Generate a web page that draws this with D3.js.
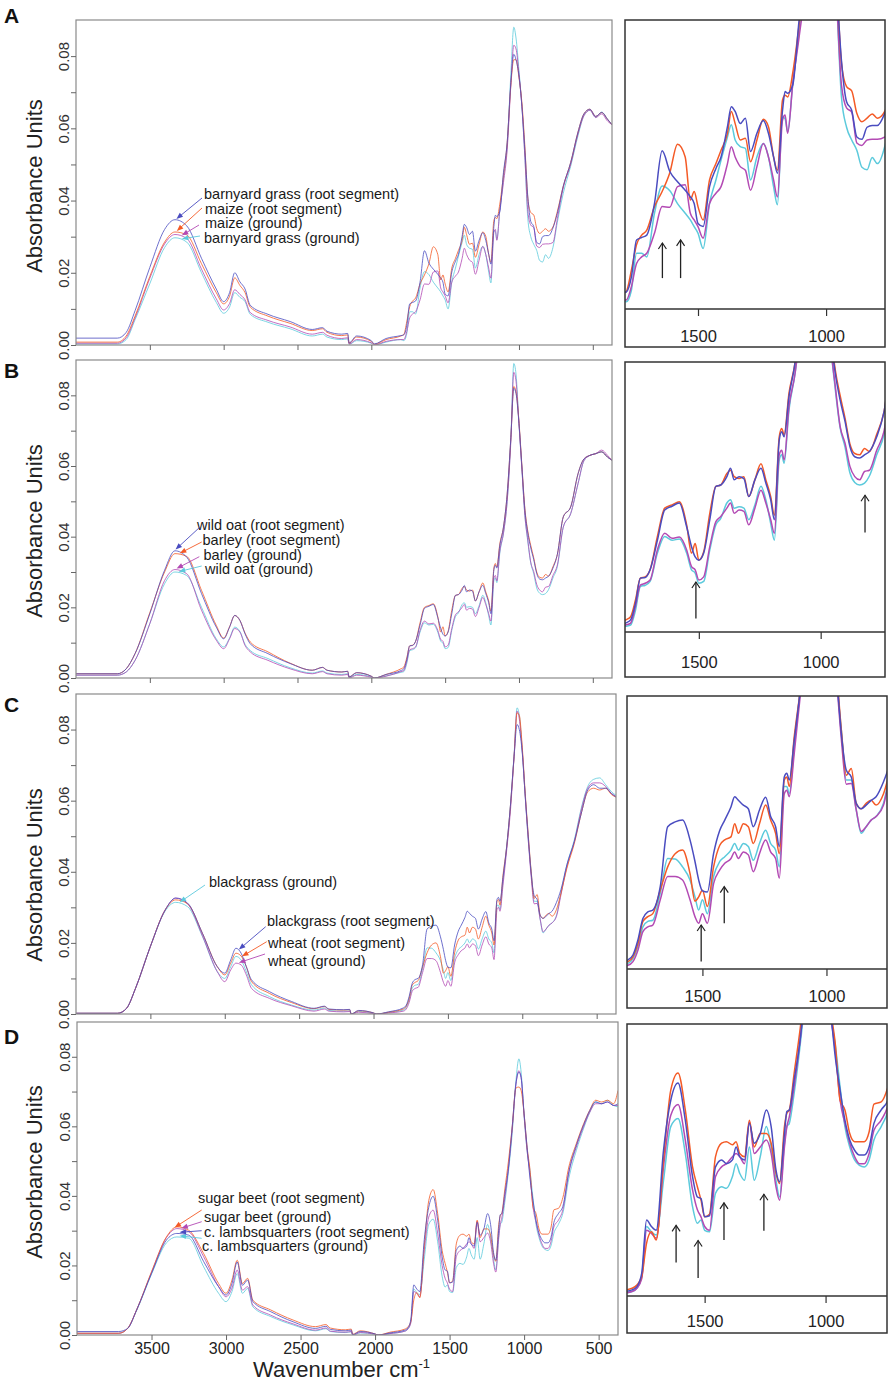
<!DOCTYPE html>
<html>
<head>
<meta charset="utf-8">
<script src="https://cdn.jsdelivr.net/npm/d3@7"></script>
<style>
  body { margin: 0; background: #fff; }
  svg { display: block; }
</style>
</head>
<body>
<script>
'use strict';

// wavenumber grid (cm-1) shared by every spectrum
const wavenumbers = [4000, 3720, 3660, 3600, 3500, 3400, 3330, 3250, 3150, 3050,
  3000, 2960, 2925, 2890, 2855, 2820, 2700, 2550, 2400, 2330,
  2300, 2200, 2160, 2150, 2100, 2000, 1980, 1900, 1800, 1780,
  1760, 1740, 1720, 1700, 1670, 1640, 1610, 1580, 1550, 1530,
  1515, 1500, 1480, 1455, 1430, 1410, 1385, 1370, 1355, 1335,
  1315, 1295, 1270, 1245, 1225, 1205, 1190, 1170, 1160, 1150,
  1130, 1105, 1080, 1055, 1035, 1020, 1000, 980, 960, 940,
  920, 900, 880, 860, 840, 820, 800, 770, 740, 700,
  650, 600, 560, 520, 480, 440, 400, 370];

// absorbance values in milli-absorbance units (x 1000)
// panel A
const aBarnyardRoot = [1.9, 1.9, 3.5, 9.5, 21.5, 32, 34.7, 33, 24, 15.5,
  12, 14.5, 20, 17.5, 15.5, 11, 8.5, 6.5, 4.3, 4.8,
  3.8, 3, 3.2, 0.6, 2.5, 1.2, 0.3, 1.8, 2.6, 2.8,
  5.3, 11.4, 11.8, 12.2, 17.4, 26.1, 22.7, 21, 19.6, 18.5,
  17.4, 14.1, 13.6, 20.2, 23.2, 25.1, 30.1, 33.4, 32.6, 30.6,
  31.5, 26, 29, 31.1, 29, 25.1, 22.4, 32.8, 35.9, 35.6,
  37, 47.8, 56, 72.7, 80.5, 79, 74.5, 66, 54, 41,
  34.2, 32.8, 28.4, 28, 30, 30.3, 30.3, 32.4, 36.5, 44,
  50.5, 59, 64, 65.3, 63.3, 64.4, 62.5, 61];
const aMaizeRoot = [0.8, 0.8, 2.5, 8, 19, 28.5, 31.3, 30.5, 22.5, 14.5,
  11.4, 13.5, 18.6, 16.5, 14.5, 10.5, 8, 6, 4, 4.5,
  3.5, 2.6, 2.8, 0.5, 2.2, 1, 0.2, 1.5, 2.5, 2.9,
  6.4, 10.6, 12.2, 13, 16.9, 19.4, 22.5, 27.2, 25.1, 18,
  19.4, 16.9, 14.7, 21.3, 24, 26.2, 29, 32.6, 30.6, 27.9,
  28.2, 24.3, 27.9, 31.3, 30.1, 25.1, 22.9, 34.5, 35.3, 35,
  39, 47, 56, 72, 79, 79, 74, 67, 55, 40.6,
  36.7, 36, 32.3, 30.9, 31.5, 32.2, 31.5, 32.7, 37, 44,
  50.5, 59, 64, 65.3, 63.3, 64.4, 62.5, 61];
const aMaizeGround = [0.5, 0.5, 2, 7.5, 18.5, 28, 30.6, 29.5, 21, 12.8,
  9.7, 11.5, 15.3, 14, 12.5, 9, 6.8, 5, 3, 3.5,
  2.7, 1.8, 2, 0.3, 1.5, 0.6, 0, 1, 1.5, 1.5,
  3.7, 7.5, 8.6, 9.2, 12.5, 16.9, 16.8, 20.2, 20.5, 15.8,
  14.7, 13.6, 11.7, 17.4, 19.1, 20.2, 24, 26.8, 25.1, 23.5,
  22.9, 19.6, 23.5, 27.3, 25.1, 21.3, 18.5, 31.2, 32, 29,
  37.2, 45, 54, 72, 83, 82, 75, 66, 52, 37,
  33.2, 32.5, 27.4, 27, 27.9, 28, 28, 28.4, 35, 43.5,
  50, 58.5, 63.5, 65, 63, 64, 62, 61];
const aBarnyardGround = [0.3, 0.3, 1.5, 7, 17, 27, 29.7, 28.5, 20, 11.8,
  8.8, 10.5, 14.5, 13.2, 12, 8.5, 6.3, 4.5, 2.5, 3,
  2.2, 1.5, 1.7, 0.2, 1.2, 0.5, 0, 0.8, 1.5, 1.2,
  3.1, 9.2, 9.2, 8.6, 15.8, 20.3, 19.5, 17.4, 15.8, 14.7,
  13.6, 12.5, 10, 17.4, 21.3, 24.6, 28.4, 30.4, 27.9, 26.8,
  26.5, 21.3, 25.1, 27.3, 25.1, 20.2, 17.2, 31.7, 31.4, 29.2,
  37.2, 46, 55, 75, 88, 85, 76, 66, 52, 35,
  30, 27.9, 26.2, 23.4, 23, 25, 24, 27, 34, 42,
  49.5, 58, 63.5, 65, 63, 64.5, 62.5, 61];

// panel B
const bWildOatRoot = [1.2, 1.2, 2.6, 6.9, 18.2, 30.5, 36, 34.2, 23.9, 14.4,
  11.1, 14.4, 17.7, 16.3, 12.5, 9.7, 6.9, 4.1, 2.2, 3,
  2.2, 1.7, 1.9, 0.3, 1.5, 0.5, 0, 1, 2.1, 2.6,
  5.2, 9.1, 9.2, 10.4, 15, 19.7, 20.3, 20.8, 17.1, 14,
  12.4, 11.9, 13, 18.2, 23.4, 23.6, 24.9, 26.2, 24.4, 24.9,
  24.6, 21.8, 24.4, 26.2, 23.9, 21.3, 18.2, 30.6, 31.9, 31.1,
  37.4, 42.7, 52, 68, 82, 80.5, 72, 59.7, 47.5, 41,
  36.8, 33.5, 29.6, 28, 27.8, 28.3, 28.8, 31.1, 35, 45.6,
  48.4, 57.8, 62, 63, 63.5, 64, 62.5, 61.6];
const bBarleyRoot = [1.2, 1.2, 2.6, 6.9, 18.5, 30, 35.2, 34.4, 24.8, 14.9,
  11.3, 14.5, 17.7, 16.3, 12.7, 10.2, 7.4, 4.2, 2.2, 3,
  2.2, 1.7, 1.9, 0.3, 1.5, 0.5, 0, 1, 2.6, 3.1,
  5.7, 9.1, 9.3, 10.4, 15.6, 20, 20.5, 21, 17.4, 13,
  14.5, 11.9, 13.2, 19.2, 23.4, 23.6, 25.4, 25.9, 24.9, 24.6,
  24.9, 21.8, 24.4, 26.9, 24.4, 21.8, 18.9, 31.1, 32.4, 31.4,
  37.9, 42.7, 52, 68, 82.5, 81, 72.5, 60, 48, 41.5,
  37.5, 34, 30, 28.5, 28.3, 29.3, 28.8, 31.5, 35, 45.6,
  48.4, 57.8, 62, 63, 63.5, 64, 62.5, 61.6];
const bBarleyGround = [0.8, 0.8, 1.7, 5, 15.4, 27.6, 30.7, 29.5, 19.2, 10.7,
  8.3, 11.1, 14, 13, 9.2, 7.4, 5, 2.6, 1.2, 1.8,
  1.2, 0.8, 1, 0, 0.8, 0.2, 0, 0.5, 1.8, 2.1,
  4.7, 8, 8.3, 8.8, 13.5, 16.1, 15.3, 15.5, 13.5, 10.9,
  10.4, 8.8, 9.3, 14, 17.9, 18.7, 20, 20.8, 19.2, 19.7,
  19.5, 17.4, 20, 22.8, 20.8, 18.2, 16.1, 28.3, 29, 27.5,
  35.8, 41, 50, 67, 86.5, 84, 72, 59, 46, 39,
  32.7, 30.1, 26.5, 24.9, 24.4, 25.7, 25.9, 29, 32, 42.7,
  46.5, 55, 61.5, 63, 63.5, 64.5, 63, 61.6];
const bWildOatGround = [0.8, 0.8, 1.7, 5, 15.4, 26.7, 30, 29, 20, 11.1,
  8.8, 11.3, 14.4, 13.2, 9.5, 7.8, 5.5, 2.9, 1.4, 2,
  1.4, 1, 1.2, 0.2, 1, 0.3, 0, 0.6, 1.6, 1.8,
  4.1, 7.8, 8, 8.6, 13, 15.6, 15, 15.2, 13, 10.4,
  9.9, 8.3, 8.6, 13.5, 17.4, 18.4, 20.8, 21.3, 20, 20.2,
  20, 18.2, 20.5, 23.4, 21.3, 17.6, 15, 27.5, 28.3, 27,
  35.3, 41, 50, 68, 89, 86, 72, 59, 46, 38.5,
  32.5, 29.5, 25.5, 24, 23.6, 23.9, 25, 28.3, 31.5, 42.7,
  46.5, 55, 61.5, 63, 63.5, 64, 62.5, 61.6];

// panel C
const cBlackgrassRoot = [0.2, 0.2, 1.6, 7.2, 19, 29.3, 32.6, 31.2, 22.7, 13.3,
  11.5, 15.2, 18.5, 17.1, 13.3, 9.6, 6.3, 3.5, 1.6, 2.2,
  1.4, 1.2, 1.3, 0, 1, 0.3, 0, 0.6, 1.7, 2.5,
  5, 8.6, 9.7, 10, 13.9, 23.9, 24.7, 25, 21.7, 18.1,
  15, 13.2, 13, 19.4, 23.3, 25, 27.2, 28.9, 28.3, 27.5,
  26.9, 23.9, 26.7, 28.8, 25.6, 23.9, 20.6, 32.2, 32.8, 31.7,
  38.3, 47, 58.4, 72.5, 81.4, 80, 73.4, 61.2, 50, 39.4,
  33.3, 32.2, 27.8, 26.9, 27.5, 28.3, 28.9, 31.4, 35, 42,
  48.5, 57, 63, 64.5, 63.5, 63.5, 62, 61];
const cWheatRoot = [0.2, 0.2, 1.6, 7.2, 19, 29.3, 32.1, 31, 22.7, 13.3,
  11, 14.3, 17.1, 16.3, 13.3, 9.1, 5.8, 3.2, 1.5, 2.1,
  1.3, 1.1, 1.2, 0, 0.9, 0.3, 0, 0.5, 1.4, 2.2,
  4.4, 8.1, 8.9, 9.4, 13.3, 17.2, 19.4, 20, 16.1, 11.5,
  12.2, 13.3, 10.6, 17.2, 20.8, 21.7, 22.2, 24.4, 22.8, 24.4,
  23.9, 21.1, 24.4, 27.5, 25, 22.8, 19.4, 31.7, 32.2, 30.6,
  38.9, 47, 58.4, 72.5, 84.7, 84, 75, 62, 50.5, 40,
  32.5, 33.6, 27.8, 26.9, 27.8, 28.3, 27.5, 29.4, 34, 41,
  48, 57, 62.5, 63.5, 63, 63.5, 61.7, 61];
const cBlackgrassGround = [0.2, 0.2, 1.6, 7.2, 19, 29, 31.4, 30.2, 21.8, 11.9,
  10, 13.3, 16.2, 15.2, 11.9, 8.2, 4.9, 2.5, 1.1, 1.7,
  1, 0.8, 0.9, 0, 0.7, 0.2, 0, 0.4, 1.1, 1.9,
  3.9, 7.2, 8.1, 8.3, 12.8, 18.6, 18.5, 17.2, 15, 12.2,
  10, 11.7, 9.4, 15.6, 18.1, 18.9, 20, 21.1, 20, 21.1,
  20.6, 18.3, 21.1, 23.3, 21.1, 20, 17.2, 30.6, 30.6, 29.4,
  37.2, 47, 58.4, 73, 86.1, 84, 74, 61.2, 49, 40,
  31.7, 31.7, 26.7, 22.8, 23.9, 25, 25.6, 27.8, 34, 42,
  49, 58.5, 64, 66, 66.4, 64.5, 62.5, 61.5];
const cWheatGround = [0.2, 0.2, 1.6, 7.2, 19, 29.3, 32.6, 31, 22, 11.9,
  9.1, 12.4, 14.3, 13.8, 11, 7.2, 4.4, 2.3, 0.8, 1.4,
  0.8, 0.6, 0.7, 0, 0.5, 0.1, 0, 0.3, 0.8, 1.4,
  3.3, 6.4, 7.2, 7.5, 11.7, 15.6, 15.6, 15, 11.7, 8.9,
  7.8, 9.4, 7.8, 14.4, 16.7, 17.8, 18.6, 19.7, 18.6, 19.7,
  19.2, 16.4, 19.4, 21.7, 19.7, 18.6, 15.3, 29.4, 30, 28.9,
  36.1, 46, 57, 72.5, 85.2, 83, 74, 61, 49, 38.5,
  31, 31.1, 26.7, 23.1, 23.9, 25, 25.6, 27.5, 33.5, 41.5,
  48.5, 58, 63.5, 65, 65, 64, 62, 61.2];

// panel D
const dSugarBeetRoot = [0.5, 0.5, 1.9, 7.2, 18.2, 28.2, 31.1, 30.1, 23.4, 14.8,
  12, 15.8, 21.5, 14.8, 16.3, 10, 7.2, 4.3, 2.4, 3,
  2, 1.5, 1.7, 0.2, 1.2, 0.3, 0, 0.8, 1.7, 2.3,
  3.9, 10.1, 12.2, 10.7, 25.6, 38.6, 41.8, 34.9, 24.3, 20.6,
  18.1, 15, 15.5, 26.2, 28.7, 29, 28.4, 29, 26.8, 26.2,
  33, 28, 30.5, 30.5, 28.7, 23.1, 21.2, 31.8, 34.3, 34.9,
  41.7, 50, 59.8, 71, 71.3, 70.3, 63.6, 54, 47.3, 36.7,
  34.9, 30.5, 29, 29, 29, 30.8, 36, 36.4, 39.5, 48.3,
  55, 60.8, 64.6, 67.5, 67, 67.5, 66.5, 70.3];
const dSugarBeetGround = [0.5, 0.5, 1.9, 7.2, 18, 28, 30.6, 29.7, 22.5, 13.9,
  11, 13.5, 18.7, 12.9, 13.9, 8.6, 5.7, 3.2, 1.4, 2,
  1.1, 0.8, 1, 0, 0.7, 0.2, 0, 0.4, 1.1, 1.7,
  3.5, 12.5, 11.9, 11, 24.3, 33.9, 35.9, 29.3, 20, 16.3,
  15, 13.2, 12.5, 22.5, 24.3, 24.9, 26.2, 26.8, 26.2, 24.9,
  32.7, 26.8, 28, 29.3, 26.8, 20.6, 18.1, 28, 31.8, 33.6,
  39.2, 48, 59, 72, 76, 74, 63, 53, 46, 36.7,
  32.4, 28.7, 26.2, 24.9, 24.9, 26.8, 31.1, 33, 36, 46.5,
  54, 60, 64, 66.5, 66.5, 67, 66, 66];
const dLambsquartersRoot = [1, 1, 1.9, 7.2, 17.7, 27.3, 29.2, 28.7, 21.1, 13.9,
  11.5, 14.8, 21, 14.3, 15.8, 9.6, 6.7, 3.8, 1.9, 2.5,
  1.6, 1.2, 1.4, 0.1, 1, 0.3, 0, 0.6, 1.4, 2,
  4.5, 14.4, 13.2, 12.5, 27.4, 36.7, 39.9, 33, 22.5, 18.7,
  18.4, 15, 15.2, 24.3, 25.6, 24.9, 25.6, 28, 26.2, 25.6,
  32.4, 28.7, 30.5, 34.9, 31.8, 23.7, 21.5, 30.5, 34.6, 34.9,
  40.5, 48, 59.8, 72.2, 75.6, 74, 63.6, 54, 44.8, 38.6,
  33, 29.3, 27.4, 26.5, 26.5, 28, 32.4, 34.9, 37, 47,
  54.5, 60.5, 64.5, 67, 66.5, 67, 66, 66.5];
const dLambsquartersGround = [0.5, 0.5, 1.9, 7, 17.5, 26.5, 28.2, 27.8, 19.6, 12,
  9.6, 12.5, 17.7, 12, 13.4, 8.1, 5.3, 2.9, 1.2, 1.8,
  1, 0.7, 0.9, 0, 0.6, 0.2, 0, 0.4, 1.1, 1.7,
  3.9, 13.2, 12.2, 11.6, 21.8, 31.8, 33.3, 26.8, 16.9, 13.8,
  14.4, 12.5, 12.2, 19.4, 20.6, 20.3, 22.5, 24.9, 23.1, 21.8,
  28, 21.8, 26.2, 31.8, 28, 21.8, 18.7, 28.7, 31.8, 32.4,
  38, 47, 58, 73, 79.4, 75.6, 63, 53, 47, 39.2,
  31.8, 28, 25.6, 24.6, 24.3, 25.6, 29.3, 31.8, 35, 45,
  53, 59.5, 64, 67, 66.5, 67.5, 66, 65.6];

const mainTicks = [3500, 3000, 2500, 2000, 1500, 1000, 500];
const insetTicks = [1500, 1000];

// marked bands in the zoomed panels: wavenumber, arrow from / to (mAU)
const aBands = [{ wn: 1639, from: 5.1, to: 10.9 }, { wn: 1568, from: 5.1, to: 11.4 }];
const bBands = [{ wn: 1512, from: 2.8, to: 8.5 }, { wn: 818, from: 16.2, to: 22 }];
const cBands = [{ wn: 1505, from: 1.4, to: 7.5 }, { wn: 1412, from: 7.8, to: 13.9 }];
const dBands = [{ wn: 1618, from: 6.5, to: 13.4 }, { wn: 1527, from: 3.6, to: 10.6 },
  { wn: 1420, from: 10.7, to: 17.6 }, { wn: 1255, from: 12.4, to: 19.2 }];

const colors = { blue: '#4a4cc0', red: '#f45a26', magenta: '#b34ab4', cyan: '#5ccadc' };
const FONT = '"Liberation Sans", Arial, sans-serif';

// series drawn back to front; tip = wavenumber the label arrow points at
const panels = [
  { letter: 'A', bands: aBands, series: [
    { name: 'barnyard grass (ground)', color: colors.cyan, values: aBarnyardGround, tip: 3283 },
    { name: 'maize (ground)', color: colors.magenta, values: aMaizeGround, tip: 3283 },
    { name: 'maize (root segment)', color: colors.red, values: aMaizeRoot, tip: 3317 },
    { name: 'barnyard grass (root segment)', color: colors.blue, values: aBarnyardRoot, tip: 3320 }] },
  { letter: 'B', bands: bBands, series: [
    { name: 'wild oat (ground)', color: colors.cyan, values: bWildOatGround, tip: 3304 },
    { name: 'barley (ground)', color: colors.magenta, values: bBarleyGround, tip: 3319 },
    { name: 'barley (root segment)', color: colors.red, values: bBarleyRoot, tip: 3297 },
    { name: 'wild oat (root segment)', color: colors.blue, values: bWildOatRoot, tip: 3326 }] },
  { letter: 'C', bands: cBands, series: [
    { name: 'blackgrass (ground)', color: colors.cyan, values: cBlackgrassGround, tip: 3303 },
    { name: 'wheat (ground)', color: colors.magenta, values: cWheatGround, tip: 2905 },
    { name: 'wheat (root segment)', color: colors.red, values: cWheatRoot, tip: 2884 },
    { name: 'blackgrass (root segment)', color: colors.blue, values: cBlackgrassRoot, tip: 2905 }] },
  { letter: 'D', bands: dBands, series: [
    { name: 'c. lambsquarters (ground)', color: colors.cyan, values: dLambsquartersGround, tip: 3312 },
    { name: 'sugar beet (ground)', color: colors.magenta, values: dSugarBeetGround, tip: 3300 },
    { name: 'sugar beet (root segment)', color: colors.red, values: dSugarBeetRoot, tip: 3345 },
    { name: 'c. lambsquarters (root segment)', color: colors.blue, values: dLambsquartersRoot, tip: 3312 }] }
];

// page geometry, one entry per panel (pixels)
const layout = [
  { letterY: 23, titleY: 186,
    main: { left: 76, right: 612, top: 20, bottom: 345 },
    inset: { left: 625, right: 885, top: 20, bottom: 347, axisY: 309, zeroY: 309, vMax: 47.7, wnFrom: 1785, wnTo: 770, labelY: 33 },
    // label text position and arrow tail, in series order
    labels: [[204, 243, 200, 236], [205, 228, 199, 225], [205, 214, 202, 208], [204, 199, 202, 198]] },
  { letterY: 378, titleY: 531,
    main: { left: 76, right: 612, top: 360, bottom: 678 },
    inset: { left: 625, right: 885, top: 362, bottom: 677, axisY: 632, zeroY: 636.6, vMax: 42.75, wnFrom: 1803, wnTo: 736, labelY: 36 },
    labels: [[205, 574, 201.7, 566], [203.5, 559.5, 199.3, 556.7], [202.5, 545, 201.7, 542], [197, 530, 200, 527]] },
  { letterY: 712, titleY: 875,
    main: { left: 76, right: 616, top: 694, bottom: 1014 },
    inset: { left: 627, right: 887, top: 696, bottom: 1008, axisY: 969, zeroY: 970, vMax: 45.7, wnFrom: 1804, wnTo: 756, labelY: 33 },
    labels: [[209, 887, 205, 885], [268, 966, 265, 954], [268, 948, 266.7, 941.7], [267, 926, 265.7, 926.7]] },
  { letterY: 1044, titleY: 1172,
    main: { left: 77, right: 618, top: 1022, bottom: 1335 },
    inset: { left: 627, right: 887, top: 1024, bottom: 1333, axisY: 1296, zeroY: 1297.4, vMax: 50.9, wnFrom: 1821, wnTo: 746, labelY: 31 },
    labels: [[202, 1251, 201.7, 1238.3], [204, 1222, 201.7, 1221.7], [198, 1203, 201.7, 1210], [204, 1237, 201.7, 1230.7]] }
];

function valueAt(values, wn) {
  for (let k = 0; k < wavenumbers.length - 1; k++) {
    const a = wavenumbers[k], b = wavenumbers[k + 1];
    if (wn <= a && wn >= b) {
      const t = (a - wn) / (a - b);
      return values[k] + t * (values[k + 1] - values[k]);
    }
  }
  return values[values.length - 1];
}

const svg = d3.select('body').append('svg')
  .attr('width', 892)
  .attr('height', 1382)
  .style('font-family', FONT);

panels.forEach(function(p, i) {
  const L = layout[i];
  const m = L.main;
  const g = svg.append('g');

  const x = d3.scaleLinear().domain([4000, 370]).range([m.left, m.right]);
  const y = d3.scaleLinear().domain([0, 90]).range([m.bottom, m.top]);

  const clipMain = 'clip-main-' + i;
  svg.append('clipPath').attr('id', clipMain).append('rect')
    .attr('x', m.left).attr('y', m.top)
    .attr('width', m.right - m.left).attr('height', m.bottom - m.top);

  const line = d3.line()
    .x((d, k) => x(wavenumbers[k]))
    .y(d => y(d))
    .curve(d3.curveMonotoneX);

  g.append('g').attr('clip-path', 'url(#' + clipMain + ')')
    .selectAll('path').data(p.series).join('path')
    .attr('d', s => line(s.values))
    .attr('fill', 'none')
    .attr('stroke', s => s.color)
    .attr('stroke-width', 1)
    .attr('stroke-opacity', 0.8);

  g.append('rect')
    .attr('x', m.left).attr('y', m.top)
    .attr('width', m.right - m.left).attr('height', m.bottom - m.top)
    .attr('fill', 'none').attr('stroke', '#8a8a8a').attr('stroke-width', 1.2);

  // y axis, rotated labels
  const yAxis = g.append('g')
    .attr('transform', 'translate(' + m.left + ',0)')
    .call(d3.axisLeft(y).tickValues(d3.range(0, 81, 10)).tickSize(5)
      .tickFormat(d => d % 20 === 0 ? d3.format('.2f')(d / 1000) : ''));
  yAxis.attr('font-family', FONT).attr('font-size', 15);
  yAxis.select('.domain').remove();
  yAxis.selectAll('line').attr('stroke', '#666');
  yAxis.selectAll('text')
    .attr('transform', 'rotate(-90)')
    .attr('x', 0).attr('y', -7).attr('dy', 0)
    .attr('text-anchor', 'middle')
    .attr('fill', '#333');

  // x axis: labels only on the bottom panel
  const xAxis = g.append('g')
    .attr('transform', 'translate(0,' + m.bottom + ')')
    .call(d3.axisBottom(x).tickValues(mainTicks).tickSize(5)
      .tickFormat(i === 3 ? d3.format('d') : ''));
  xAxis.attr('font-family', FONT).attr('font-size', 16);
  xAxis.select('.domain').remove();
  xAxis.selectAll('line').attr('stroke', '#666');
  xAxis.selectAll('text').attr('fill', '#222');

  g.append('text')
    .attr('transform', 'translate(42,' + L.titleY + ') rotate(-90)')
    .attr('text-anchor', 'middle')
    .attr('font-size', 22)
    .attr('fill', '#222')
    .text('Absorbance Units');

  g.append('text')
    .attr('x', 4).attr('y', L.letterY)
    .attr('font-size', 21).attr('font-weight', 'bold')
    .attr('fill', '#111')
    .text(p.letter);

  // labels with arrows pointing to the O-H band
  p.series.forEach(function(s, k) {
    const pos = L.labels[k];
    g.append('text')
      .attr('x', pos[0]).attr('y', pos[1])
      .attr('font-size', 14.5).attr('fill', '#1a1a1a')
      .attr('textLength', null)
      .text(s.name);
    const tx = x(s.tip), ty = y(valueAt(s.values, s.tip)) - 1.5;
    const ang = Math.atan2(ty - pos[3], tx - pos[2]);
    g.append('line')
      .attr('x1', pos[2]).attr('y1', pos[3])
      .attr('x2', tx - 5 * Math.cos(ang)).attr('y2', ty - 5 * Math.sin(ang))
      .attr('stroke', s.color).attr('stroke-width', 0.9);
    const bx = tx - 6.5 * Math.cos(ang), by = ty - 6.5 * Math.sin(ang);
    const px = 2.6 * Math.sin(ang), py = -2.6 * Math.cos(ang);
    g.append('path')
      .attr('d', 'M' + tx + ',' + ty + 'L' + (bx + px) + ',' + (by + py) + 'L' + (bx - px) + ',' + (by - py) + 'Z')
      .attr('fill', s.color);
  });

  // zoomed fingerprint region
  const n = L.inset;
  const xi = d3.scaleLinear().domain([n.wnFrom, n.wnTo]).range([n.left, n.right]);
  const yi = d3.scaleLinear().domain([0, n.vMax]).range([n.zeroY, n.top]);

  const clipInset = 'clip-inset-' + i;
  svg.append('clipPath').attr('id', clipInset).append('rect')
    .attr('x', n.left).attr('y', n.top)
    .attr('width', n.right - n.left).attr('height', n.axisY - n.top);

  const lineInset = d3.line()
    .x((d, k) => xi(wavenumbers[k]))
    .y(d => yi(d))
    .curve(d3.curveMonotoneX);

  g.append('g').attr('clip-path', 'url(#' + clipInset + ')')
    .selectAll('path').data(p.series).join('path')
    .attr('d', s => lineInset(s.values))
    .attr('fill', 'none')
    .attr('stroke', s => s.color)
    .attr('stroke-width', 1.5);

  g.append('rect')
    .attr('x', n.left).attr('y', n.top)
    .attr('width', n.right - n.left).attr('height', n.bottom - n.top)
    .attr('fill', 'none').attr('stroke', '#333').attr('stroke-width', 1.5);
  g.append('line')
    .attr('x1', n.left).attr('x2', n.right)
    .attr('y1', n.axisY).attr('y2', n.axisY)
    .attr('stroke', '#333').attr('stroke-width', 1.3);

  const xiAxis = g.append('g')
    .attr('transform', 'translate(0,' + n.axisY + ')')
    .call(d3.axisBottom(xi).tickValues(insetTicks).tickSize(7).tickFormat(d3.format('d')));
  xiAxis.attr('font-family', FONT).attr('font-size', 16.5);
  xiAxis.select('.domain').remove();
  xiAxis.selectAll('line').attr('stroke', '#333').attr('stroke-width', 1.2);
  xiAxis.selectAll('text').attr('y', n.labelY).attr('dy', 0).attr('fill', '#222');

  p.bands.forEach(function(b) {
    const bx = xi(b.wn), y0 = yi(b.from), y1 = yi(b.to);
    g.append('line')
      .attr('x1', bx).attr('x2', bx).attr('y1', y0).attr('y2', y1)
      .attr('stroke', '#222').attr('stroke-width', 1.3);
    g.append('path')
      .attr('d', 'M' + (bx - 4) + ',' + (y1 + 6) + 'L' + bx + ',' + y1 + 'L' + (bx + 4) + ',' + (y1 + 6))
      .attr('fill', 'none').attr('stroke', '#222').attr('stroke-width', 1.2);
  });
});

const xTitle = svg.append('text')
  .attr('x', 253).attr('y', 1377)
  .attr('font-size', 22).attr('fill', '#222');
xTitle.append('tspan').text('Wavenumber cm');
xTitle.append('tspan').attr('dy', -9).attr('font-size', 13).text('-1');
</script>
</body>
</html>
